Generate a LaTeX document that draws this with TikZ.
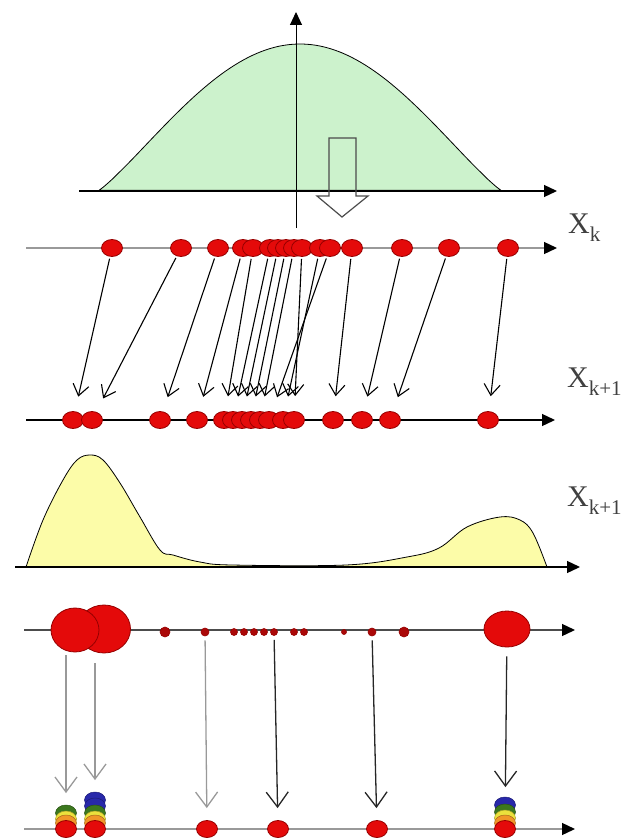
\documentclass[tikz,border=0pt]{standalone}
\usepackage{fontspec}
\setmainfont{Liberation Serif}
\usetikzlibrary{arrows.meta, shapes.geometric}

\definecolor{dotred}{RGB}{228,10,10}
\definecolor{dotedge}{RGB}{150,0,0}
\definecolor{bellgreen}{RGB}{204,242,204}
\definecolor{humpyellow}{RGB}{252,252,168}
\definecolor{stackblue}{RGB}{40,40,170}
\definecolor{stackgreen}{RGB}{60,120,30}
\definecolor{stackyellow}{RGB}{235,225,60}
\definecolor{stackorange}{RGB}{240,150,40}

\newcommand{\xsub}[1]{\raisebox{-0.28em}{\fontsize{21}{21}\selectfont #1}}

\begin{document}
\begin{tikzpicture}[
    x=1pt, y=-1pt,
    axis/.style={-{Triangle[length=13pt,width=12pt,black]}, line width=1.3pt},
    particle/.style={ellipse, draw=dotedge, fill=dotred, line width=0.8pt, inner sep=0pt, minimum width=21pt, minimum height=17pt},
    grain/.style={circle, draw=dotedge, fill=dotred!75!black, line width=0.6pt, inner sep=0pt},
    link/.style={-{Straight Barb[length=11pt,width=16pt]}, line width=1.1pt, shorten >=15pt, shorten <=2pt},
    drop/.style={-{Straight Barb[length=15pt,width=22pt]}, line width=1.3pt},
    lbl/.style={anchor=base west, inner sep=0pt, text=black!75, font=\fontsize{30}{30}\selectfont}
  ]
  \useasboundingbox (0,0) rectangle (631,840);

  % prior density
  \draw[fill=bellgreen, line width=0.8pt] plot[domain=-1:1, samples=90] ({300+201*\x}, {191-147*(cos(89.5*\x))^1.15}) -- cycle;
  \draw[axis] (79,191) -- (557,191);
  \draw[axis, line width=1pt] (296,228) -- (296,12);
  \draw[gray!60!black, line width=1.2pt] (329,138) -- (356,138) -- (356,196) -- (368,196) -- (342,217) -- (317,196) -- (329,196) -- cycle;
  \node[lbl] (lblk) at (568,233) {X\xsub{k}};

  % samples at step k
  \draw[axis, gray!80] (26,248) -- (557,248);
  \foreach \px [count=\i] in {112,181,218,243,253,270,278,286,294,302,320,330,352,402,449,508}
    \node[particle] (a\i) at (\px,248) {};

  % propagated samples
  \draw[axis] (26,420) -- (555,420);
  \foreach \px [count=\i] in {73,92,160,197,224,233,242,251,260,269,283,294,333,362,390,488}
    \node[particle] (b\i) at (\px,420) {};
  \foreach \s/\t in {1/1,2/2,3/3,4/4,5/5,6/6,7/7,8/8,9/9,10/12,11/11,12/10,13/13,14/14,15/15,16/16}
    \draw[link] (a\s) -- (b\t);
  \node[lbl] (lblka) at (567,387) {X\xsub{k+1}};

  % posterior density
  \draw[fill=humpyellow, line width=0.8pt] plot[smooth, tension=0.6] coordinates {(26,567) (43,520) (63,480) (77,460) (90,455) (103,460) (120,483) (140,517) (160,550) (173,555) (200,562) (232,565) (346,565) (407,557) (439,548) (467,527) (500,517) (520,520) (533,533) (547,567)} -- cycle;
  \draw[axis] (15,567) -- (580,567);
  \node[lbl] (lblkb) at (567,506) {X\xsub{k+1}};

  % weighted samples
  \draw[axis, black!70] (24,630) -- (575,630);
  \node[particle, minimum width=53pt, minimum height=48pt] (wR) at (104,629) {};
  \node[particle, minimum width=48pt, minimum height=44pt] (wL) at (75,630) {};
  \node[particle, minimum width=46pt, minimum height=36pt] (wbig) at (507,629) {};
  \foreach \px/\d [count=\i] in {165/10,205/8,234/7,244/7,254/7,264/7,274/7,294/7,304/7,344/5,372/8,404/10}
    \node[grain, minimum size=\d pt] (s\i) at (\px,632) {};

  % resampled particles
  \draw[axis, gray!80] (24,829) -- (575,829);
  \foreach \y/\c in {813/stackgreen, 819/stackyellow, 823/stackorange}
    \draw[fill=\c, draw=\c!70!black, line width=0.5pt] (66,\y) ellipse (10.5 and 8);
  \foreach \y/\c in {800/stackblue, 806/stackblue, 813/stackgreen, 819/stackyellow, 823/stackorange}
    \draw[fill=\c, draw=\c!70!black, line width=0.5pt] (95,\y) ellipse (10.5 and 8);
  \foreach \y/\c in {805/stackblue, 812/stackgreen, 818/stackyellow, 823/stackorange}
    \draw[fill=\c, draw=\c!70!black, line width=0.5pt] (505,\y) ellipse (10.5 and 8);
  \foreach \px [count=\i] in {66,95,207,278,377,505}
    \node[particle] (r\i) at (\px,829) {};

  \draw[drop, gray!80, shorten <=3pt, shorten >=27pt] (wL.south -| r1) -- (r1);
  \draw[drop, gray!80, shorten <=10pt, shorten >=40pt] (wR.south -| r2) -- (r2);
  \draw[drop, gray!80, shorten <=4pt, shorten >=12pt] (s2) -- (r3);
  \draw[drop, black!85, shorten <=4pt, shorten >=12pt] (s7) -- (r4);
  \draw[drop, black!85, shorten <=4pt, shorten >=12pt] (s11) -- (r5);
  \draw[drop, black!85, shorten <=9pt, shorten >=33pt] (wbig) -- (r6);
\end{tikzpicture}
\end{document}
